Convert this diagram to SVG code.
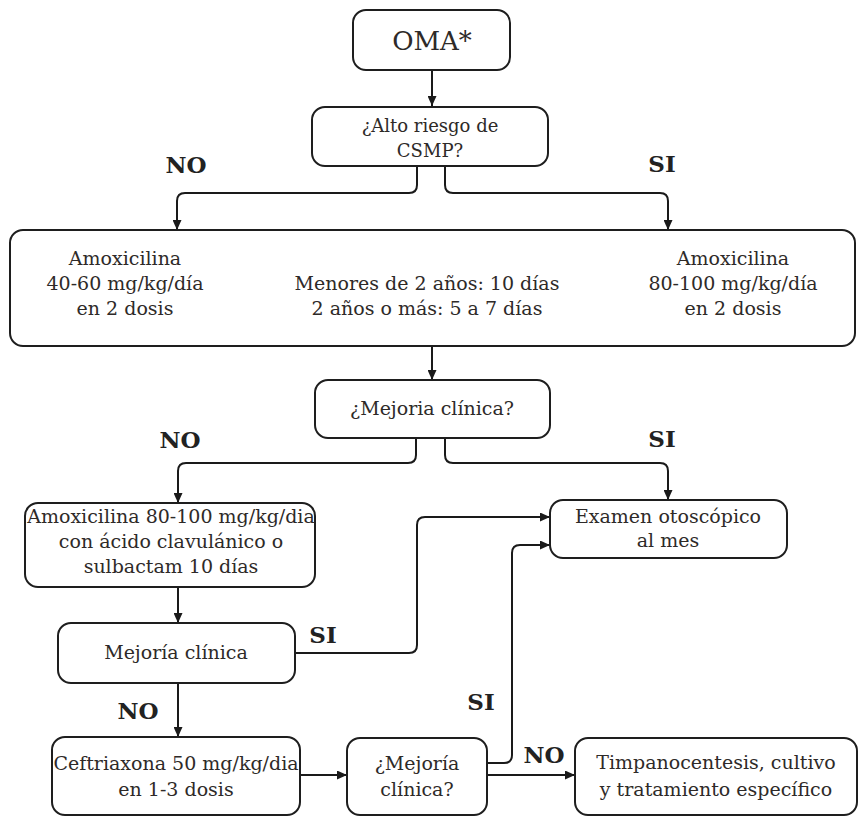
<svg xmlns="http://www.w3.org/2000/svg" width="860" height="817" viewBox="0 0 860 817">
<style>
.box{fill:#fff;stroke:#1e1e1e;stroke-width:2}
.t{font-family:"DejaVu Serif","Liberation Serif",serif;font-size:19px;fill:#2e2a28;text-anchor:middle}
.lbl{font-family:"DejaVu Serif","Liberation Serif",serif;font-size:23px;font-weight:bold;fill:#222;text-anchor:middle}
.c{fill:none;stroke:#1a1a1a;stroke-width:2;marker-end:url(#ah)}
</style>
<defs>
<marker id="ah" markerUnits="userSpaceOnUse" markerWidth="11" markerHeight="9" refX="10" refY="4.5" orient="auto">
<path d="M0,0 L10,4.5 L0,9 z" fill="#1a1a1a"/>
</marker>
</defs>
<rect width="860" height="817" fill="#fff"/>
<g id="connectors">
<path class="c" d="M432,70 V106"/>
<path class="c" d="M417,166 V185 Q417,193 409,193 H185 Q177,193 177,201 V230"/>
<path class="c" d="M445,166 V185 Q445,193 453,193 H660 Q668,193 668,201 V230"/>
<path class="c" d="M432,346 V380"/>
<path class="c" d="M416,438 V455 Q416,463 408,463 H186 Q178,463 178,471 V503"/>
<path class="c" d="M445,438 V455 Q445,463 453,463 H660 Q668,463 668,471 V500"/>
<path class="c" d="M178,587 V623"/>
<path class="c" d="M295,653 H409 Q417,653 417,645 V525 Q417,517 425,517 H550"/>
<path class="c" d="M178,683 V737"/>
<path class="c" d="M300,775 H347"/>
<path class="c" d="M487,763 H504 Q512,763 512,755 V553 Q512,545 520,545 H550"/>
<path class="c" d="M487,775 H575"/>
</g>
<g id="labels">
<text class="lbl" x="186" y="173">NO</text>
<text class="lbl" x="662" y="172">SI</text>
<text class="lbl" x="180" y="448">NO</text>
<text class="lbl" x="662" y="447">SI</text>
<text class="lbl" x="323" y="643">SI</text>
<text class="lbl" x="138" y="719">NO</text>
<text class="lbl" x="481" y="710">SI</text>
<text class="lbl" x="544" y="763">NO</text>
</g>
<g id="oma">
<rect class="box" x="353" y="10" width="157" height="60" rx="13"/>
<text class="t" x="432" y="50" style="font-size:26px">OMA*</text>
</g>
<g id="alto-riesgo">
<rect class="box" x="312" y="107" width="236" height="59" rx="13"/>
<text class="t" x="430" y="132" style="font-size:18px">¿Alto riesgo de</text>
<text class="t" x="430" y="157" style="font-size:18px">CSMP?</text>
</g>
<g id="tratamiento">
<rect class="box" x="10" y="230" width="845" height="116" rx="13"/>
<text class="t" x="125" y="265">Amoxicilina</text>
<text class="t" x="125" y="290">40-60 mg/kg/día</text>
<text class="t" x="125" y="315">en 2 dosis</text>
<text class="t" x="427" y="290">Menores de 2 años: 10 días</text>
<text class="t" x="427" y="315">2 años o más: 5 a 7 días</text>
<text class="t" x="733" y="265">Amoxicilina</text>
<text class="t" x="733" y="290">80-100 mg/kg/día</text>
<text class="t" x="733" y="315">en 2 dosis</text>
</g>
<g id="mejoria1">
<rect class="box" x="315" y="380" width="235" height="58" rx="13"/>
<text class="t" x="432" y="415">¿Mejoria clínica?</text>
</g>
<g id="amox-clav">
<rect class="box" x="25" y="503" width="290" height="84" rx="13"/>
<text class="t" x="171" y="523">Amoxicilina 80-100 mg/kg/dia</text>
<text class="t" x="171" y="548">con ácido clavulánico o</text>
<text class="t" x="171" y="573">sulbactam 10 días</text>
</g>
<g id="examen">
<rect class="box" x="550" y="500" width="237" height="58" rx="13"/>
<text class="t" x="668" y="523">Examen otoscópico</text>
<text class="t" x="668" y="547">al mes</text>
</g>
<g id="mejoria2">
<rect class="box" x="58" y="623" width="237" height="60" rx="13"/>
<text class="t" x="176" y="659">Mejoría clínica</text>
</g>
<g id="ceftriaxona">
<rect class="box" x="52" y="737" width="248" height="78" rx="13"/>
<text class="t" x="176" y="770">Ceftriaxona 50 mg/kg/dia</text>
<text class="t" x="176" y="796">en 1-3 dosis</text>
</g>
<g id="mejoria3">
<rect class="box" x="347" y="738" width="140" height="77" rx="13"/>
<text class="t" x="417" y="770">¿Mejoría</text>
<text class="t" x="417" y="796">clínica?</text>
</g>
<g id="timpanocentesis">
<rect class="box" x="575" y="738" width="282" height="77" rx="13"/>
<text class="t" x="716" y="769">Timpanocentesis, cultivo</text>
<text class="t" x="716" y="796">y tratamiento específico</text>
</g>
</svg>
